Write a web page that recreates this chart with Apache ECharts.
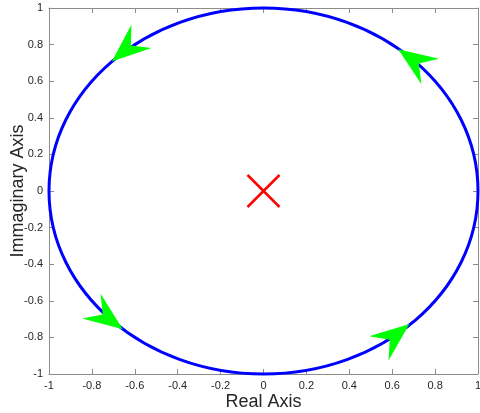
<!DOCTYPE html>
<html>
<head>
<meta charset="utf-8">
<script src="https://cdn.jsdelivr.net/npm/echarts@6/dist/echarts.min.js"></script>
<style>
  html, body { margin: 0; padding: 0; background: #fff; }
  #chart { width: 480px; height: 413px; }
</style>
</head>
<body>
<div id="chart"></div>
<script>
// axis range and ticks
const axisMin = -1;
const axisMax = 1;
const tickStep = 0.2;

// blue circle: centre and radius
const circleData = [[0, 0, 1]];
// green arrow heads (tip positions on the circle)
const arrowTips = [
  [-0.707, 0.707],
  [0.628, 0.774],
  [-0.656, -0.756],
  [0.68, -0.727]
];
// red pole mark
const poleData = [[0, 0]];

const font = "'Liberation Sans', Arial, Helvetica, sans-serif";
const axisColor = "#8c8c8c";
const textColor = "#262626";

function fmt(v) {
  return String(Math.round(v * 10) / 10);
}

function baseAxis(pos, showLabel) {
  return {
    type: "value",
    position: pos,
    min: axisMin,
    max: axisMax,
    interval: tickStep,
    splitLine: { show: false },
    axisLine: { show: true, onZero: false, lineStyle: { color: axisColor, width: 1 } },
    axisTick: { show: true, inside: true, length: 5, lineStyle: { color: axisColor } },
    axisLabel: {
      show: showLabel,
      color: textColor,
      fontSize: 11,
      fontFamily: font,
      margin: 6,
      formatter: fmt
    }
  };
}

const chart = echarts.init(document.getElementById("chart"));

const xBottom = baseAxis("bottom", true);
xBottom.name = "Real Axis";
xBottom.nameLocation = "middle";
xBottom.nameGap = 19;
xBottom.nameMoveOverlap = false;
xBottom.nameTextStyle = { fontSize: 18, color: textColor, fontFamily: font };

const yLeft = baseAxis("left", true);
yLeft.name = "Immaginary Axis";
yLeft.nameLocation = "middle";
yLeft.nameGap = 22;
yLeft.nameMoveOverlap = false;
yLeft.nameTextStyle = { fontSize: 18, color: textColor, fontFamily: font };

chart.setOption({
  animation: false,
  grid: { left: 49, right: 2, top: 8, bottom: 39, containLabel: false, outerBoundsMode: "none" },
  xAxis: [xBottom, baseAxis("top", false)],
  yAxis: [yLeft, baseAxis("right", false)],
  series: [
    {
      type: "custom",
      data: circleData,
      z: 2,
      renderItem: function (params, api) {
        const c = api.coord([api.value(0), api.value(1)]);
        const r = api.value(2);
        const e = api.coord([api.value(0) + r, api.value(1) + r]);
        return {
          type: "ellipse",
          shape: { cx: c[0], cy: c[1], rx: e[0] - c[0], ry: c[1] - e[1] },
          style: { fill: "none", stroke: "#0000ff", lineWidth: 3 }
        };
      }
    },
    {
      type: "custom",
      data: arrowTips,
      z: 3,
      renderItem: function (params, api) {
        const x = api.value(0), y = api.value(1);
        const p = api.coord([x, y]);
        // counter-clockwise direction along the circle
        const q = api.coord([x - y * 0.01, y + x * 0.01]);
        let dx = q[0] - p[0], dy = q[1] - p[1];
        const n = Math.sqrt(dx * dx + dy * dy);
        dx /= n; dy /= n;
        const L = 39, W = 15.5, N = 25;
        const bx = -dx, by = -dy;       // backwards
        const px = -by, py = bx;        // perpendicular
        return {
          type: "polygon",
          shape: {
            points: [
              [p[0], p[1]],
              [p[0] + bx * L + px * W, p[1] + by * L + py * W],
              [p[0] + bx * N, p[1] + by * N],
              [p[0] + bx * L - px * W, p[1] + by * L - py * W]
            ]
          },
          style: { fill: "#00ff00", stroke: "none" }
        };
      }
    },
    {
      type: "custom",
      data: poleData,
      z: 3,
      renderItem: function (params, api) {
        const p = api.coord([api.value(0), api.value(1)]);
        const s = 16;
        const st = { stroke: "#ff0000", lineWidth: 2.5 };
        return {
          type: "group",
          children: [
            { type: "line", shape: { x1: p[0] - s, y1: p[1] - s, x2: p[0] + s, y2: p[1] + s }, style: st },
            { type: "line", shape: { x1: p[0] - s, y1: p[1] + s, x2: p[0] + s, y2: p[1] - s }, style: st }
          ]
        };
      }
    }
  ]
});
</script>
</body>
</html>
